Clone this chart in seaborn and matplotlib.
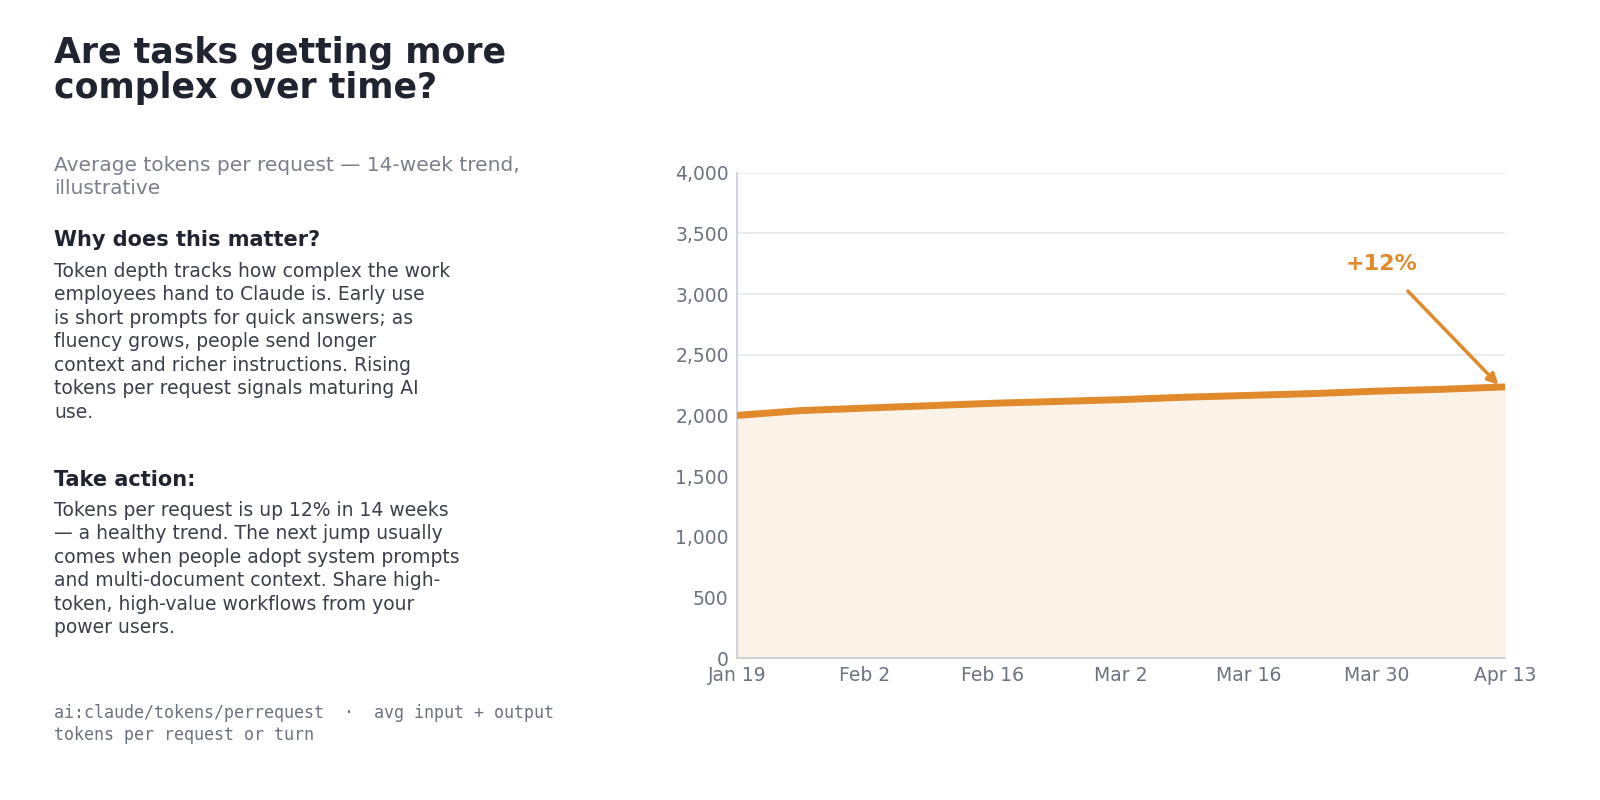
import matplotlib
matplotlib.use("Agg")
import matplotlib.pyplot as plt
import seaborn as sns
import pandas as pd
import numpy as np

dates = pd.date_range("2025-01-19", "2025-04-13", freq="7D")
tokens = [2000, 2040, 2060, 2080, 2100, 2115, 2130, 2150, 2165, 2180, 2200, 2215, 2235]
tick_labels = ["Jan 19", "Feb 2", "Feb 16", "Mar 2", "Mar 16", "Mar 30", "Apr 13"]
df = pd.DataFrame({"date": dates, "tokens": tokens})
df["x"] = (df["date"] - df["date"].iloc[0]).dt.days

sns.set_theme(style="white")
plt.rcParams['font.family'] = ['DejaVu Sans']
orange = "#E08A2C"
fig = plt.figure(figsize=(16, 8), dpi=100)
ax = fig.add_axes([0.4606, 0.1775, 0.48, 0.6065])
ax.fill_between(df["x"], df["tokens"], color="#FBF2E8", zorder=1)
sns.lineplot(data=df, x="x", y="tokens", ax=ax, color=orange, linewidth=5, zorder=3)
ax.set_xlim(0, 84); ax.set_ylim(0, 4000)
ax.set_yticks(range(0, 4001, 500))
ax.set_yticklabels([f"{v:,}" for v in range(0, 4001, 500)])
ax.set_xticks(range(0, 85, 14)); ax.set_xticklabels(tick_labels)
ax.grid(axis="y", color="#E5E7EB", linewidth=1.2, zorder=0)
ax.set_axisbelow(True)
ax.set_xlabel(""); ax.set_ylabel("")
for s in ["top", "right"]:
    ax.spines[s].set_visible(False)
for s in ["left", "bottom"]:
    ax.spines[s].set_color("#CBCFD8")
ax.tick_params(colors="#6B7280", labelsize=13.5, length=0, pad=6)
ax.annotate("+12%", xy=(83.5, 2235), xytext=(70.5, 3250), color=orange, fontsize=16,
            fontweight="bold", ha="center", va="center",
            arrowprops=dict(arrowstyle="-|>", color=orange, lw=2.5, shrinkA=14, shrinkB=2))

dark = "#1F2430"; body = "#3A3F4B"
fig.text(0.034, 0.955, "Are tasks getting more\ncomplex over time?", fontsize=25, fontweight="bold",
         color=dark, va="top", linespacing=1.05)
fig.text(0.034, 0.805, "Average tokens per request — 14-week trend,\nillustrative", fontsize=14.5,
         color="#7A7F8C", va="top", linespacing=1.25)
fig.text(0.034, 0.712, "Why does this matter?", fontsize=15, fontweight="bold", color=dark, va="top")
fig.text(0.034, 0.673, "Token depth tracks how complex the work\nemployees hand to Claude is. Early use\n"
         "is short prompts for quick answers; as\nfluency grows, people send longer\n"
         "context and richer instructions. Rising\ntokens per request signals maturing AI\nuse.",
         fontsize=13.5, color=body, va="top", linespacing=1.3)
fig.text(0.034, 0.413, "Take action:", fontsize=15, fontweight="bold", color=dark, va="top")
fig.text(0.034, 0.374, "Tokens per request is up 12% in 14 weeks\n— a healthy trend. The next jump usually\n"
         "comes when people adopt system prompts\nand multi-document context. Share high-\n"
         "token, high-value workflows from your\npower users.",
         fontsize=13.5, color=body, va="top", linespacing=1.3)
fig.text(0.034, 0.12, "ai:claude/tokens/perrequest  ·  avg input + output\ntokens per request or turn",
         fontsize=12, family="DejaVu Sans Mono", color="#6B7280", va="top", linespacing=1.25)
fig.savefig("out.png", dpi=100, facecolor="white")
